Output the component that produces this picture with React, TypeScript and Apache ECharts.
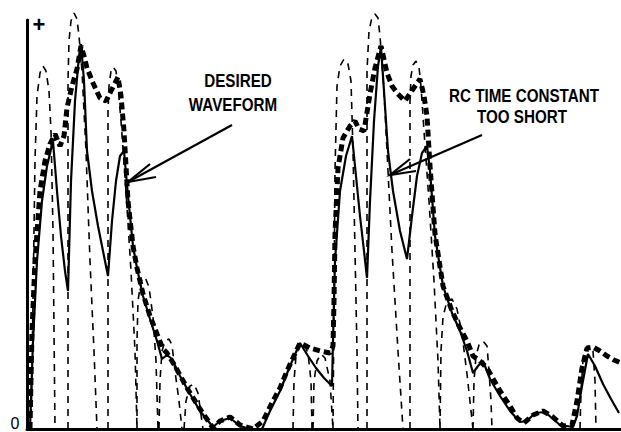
import React, { useEffect, useRef } from "react";
import * as echarts from "echarts";

// time (t) vs. level (a) pairs
const desiredWaveform: number[][] = [
  [0, 0], [2, 98], [5, 168], [10, 238], [15, 268], [20, 285], [25, 295], [30, 283], [34, 293], [37, 321],
  [42, 343], [47, 360], [51, 383], [54, 373], [57, 361], [63, 346], [70, 331], [76, 328], [81, 338], [85, 346],
  [88, 352], [91, 333], [94, 298], [98, 228], [103, 183], [107, 161], [113, 135], [120, 113], [127, 95], [133, 80],
  [137, 76], [145, 63], [157, 41], [170, 20], [183, 1], [190, 8], [200, 12], [210, 4], [223, 0], [233, 8],
  [242, 26], [250, 41], [257, 58], [263, 71], [270, 86], [280, 81], [290, 78], [300, 76], [303, 83], [304, 128],
  [305, 195], [308, 261], [313, 291], [320, 303], [325, 308], [329, 300], [334, 298], [340, 335], [345, 361], [351, 383],
  [357, 356], [362, 343], [367, 336], [375, 328], [383, 340], [390, 350], [394, 333], [397, 313], [400, 263], [405, 195],
  [413, 143], [422, 118], [430, 101], [437, 88], [443, 73], [450, 68], [457, 61], [470, 38], [480, 23], [487, 11],
  [494, 6], [503, 14], [513, 18], [523, 12], [533, 3], [542, 4], [547, 28], [552, 61], [557, 81], [563, 82],
  [570, 78], [577, 73], [584, 69], [591, 66],
];

const rcTooShort: number[][] = [
  [0, 0], [3, 88], [7, 168], [12, 228], [17, 263], [23, 288], [27, 238], [31, 193], [35, 158], [38, 138],
  [41, 248], [45, 328], [49, 373], [51, 385], [54, 348], [57, 278], [62, 238], [68, 203], [73, 178], [78, 153],
  [82, 208], [86, 248], [90, 273], [94, 278], [98, 233], [103, 183], [107, 161], [113, 133], [120, 110], [127, 88],
  [132, 70], [137, 74], [142, 70], [150, 53], [160, 35], [170, 18], [183, 2], [190, 8], [200, 11], [210, 3],
  [220, 0], [232, 0], [240, 18], [250, 38], [260, 63], [270, 86], [278, 73], [286, 61], [294, 51], [302, 43],
  [303, 88], [305, 168], [310, 238], [316, 273], [322, 293], [326, 253], [330, 213], [334, 178], [337, 151], [340, 228],
  [344, 308], [348, 363], [351, 382], [354, 338], [358, 278], [363, 238], [370, 198], [377, 170], [382, 213], [387, 253],
  [392, 276], [397, 283], [400, 258], [405, 193], [413, 143], [422, 116], [430, 98], [437, 78], [443, 56], [448, 63],
  [453, 68], [460, 50], [470, 33], [480, 18], [490, 7], [497, 8], [505, 16], [515, 17], [523, 10], [530, 4],
  [543, 2], [547, 13], [552, 43], [558, 75], [565, 63], [573, 45], [581, 30], [589, 16],
];

// rectified input pulses (thin dashed)
const pulseA1 = [[1, 0], [3, 128], [5, 268], [7, 333], [10, 356], [13, 363], [16, 358], [19, 338], [21, 298], [23, 198], [25, 0]];
const pulseA2 = [[38, 0], [38, 228], [38, 348], [39, 388], [41, 408], [44, 416], [47, 410], [49, 393], [52, 358], [56, 278], [60, 168], [64, 78], [67, 0]];
const pulseA3 = [[78, 0], [78, 178], [78, 318], [79, 343], [81, 358], [83, 362], [86, 358], [88, 343], [91, 308], [96, 238], [101, 158], [105, 78], [107, 0]];
const pulseA4 = [[107, 0], [107, 88], [108, 128], [111, 148], [115, 152], [119, 142], [123, 112], [126, 68], [128, 0]];
const pulseA5 = [[129, 0], [130, 48], [132, 78], [135, 88], [139, 90], [142, 84], [145, 58], [149, 28], [152, 0]];
const pulseA6 = [[154, 0], [156, 28], [160, 43], [164, 45], [168, 36], [173, 0]];
const pulseM1 = [[263, 0], [264, 48], [266, 73], [270, 85], [274, 85], [278, 76], [281, 48], [282, 0]];
const pulseM2 = [[283, 0], [284, 48], [287, 68], [291, 75], [295, 71], [300, 48], [303, 0]];
const pulseB1 = [[303, 0], [304, 128], [305, 258], [307, 343], [310, 363], [314, 370], [318, 365], [321, 348], [323, 278], [325, 178], [327, 78], [328, 0]];
const pulseB2 = [[337, 0], [337, 228], [337, 358], [339, 398], [342, 412], [345, 415], [348, 411], [350, 393], [354, 338], [358, 258], [362, 178], [368, 78], [373, 0]];
const pulseB3 = [[380, 0], [380, 178], [380, 328], [381, 353], [383, 364], [386, 368], [389, 362], [391, 343], [394, 298], [399, 228], [404, 148], [408, 68], [410, 0]];
const pulseB4 = [[410, 0], [411, 78], [413, 112], [417, 128], [422, 130], [427, 120], [432, 95], [437, 55], [443, 0]];
const pulseB5 = [[443, 0], [444, 48], [446, 73], [449, 84], [453, 88], [457, 83], [459, 58], [461, 28], [462, 0]];
const pulseC1 = [[550, 0], [551, 38], [553, 68], [556, 80], [560, 83], [563, 78], [565, 48], [566, 0]];

const pulses = [pulseA1, pulseA2, pulseA3, pulseA4, pulseA5, pulseA6, pulseM1, pulseM2,
  pulseB1, pulseB2, pulseB3, pulseB4, pulseB5, pulseC1];

const labelDesired = ["DESIRED", "WAVEFORM"];
const labelRc = ["RC TIME CONSTANT", "TOO SHORT"];
const axisMarks = ["+", "0"];

export default function App() {
  const ref = useRef<HTMLDivElement>(null);
  useEffect(() => {
    if (!ref.current) return;
    const chart = echarts.init(ref.current, undefined, { renderer: "svg" });
    const pulseData: any[] = [];
    pulses.forEach((p, i) => {
      if (i > 0) pulseData.push([p[0][0], "-"]);
      p.forEach((pt) => pulseData.push(pt));
    });
    const font = "'Liberation Sans Narrow', 'Liberation Sans', Arial, sans-serif";
    const txt = (s: string, x: number, y: number) => ({
      type: "text", x, y, scaleX: 0.8, scaleY: 1,
      style: { text: s, fill: "#000", font: `bold 19px ${font}`, textAlign: "center", textVerticalAlign: "middle" },
    });
    const arrow = (tip: number[], tail: number[], w1: number[], w2: number[]) => [
      { type: "line", shape: { x1: tip[0], y1: tip[1], x2: tail[0], y2: tail[1] }, style: { stroke: "#000", lineWidth: 2.2 } },
      { type: "polyline", shape: { points: [w1, tip, w2] }, style: { stroke: "#000", lineWidth: 2.2, fill: "none" } },
    ];
    chart.setOption({
      animation: false,
      backgroundColor: "#fff",
      grid: { left: 27, right: 0, top: 20, bottom: 3 },
      xAxis: {
        type: "value", min: -3, max: 591,
        axisLine: { show: true, onZero: false, lineStyle: { color: "#000", width: 3 } },
        axisTick: { show: false }, axisLabel: { show: false }, splitLine: { show: false },
      },
      yAxis: {
        type: "value", min: 0, max: 409,
        axisLine: { show: true, onZero: false, lineStyle: { color: "#000", width: 3 } },
        axisTick: { show: false }, axisLabel: { show: false }, splitLine: { show: false },
      },
      series: [
        {
          type: "line", data: pulseData, showSymbol: false, clip: false, connectNulls: false,
          lineStyle: { color: "#000", width: 1.6, type: [7, 6] },
        },
        {
          type: "line", data: rcTooShort, showSymbol: false, clip: false,
          lineStyle: { color: "#000", width: 2.2 },
        },
        {
          type: "line", data: desiredWaveform, showSymbol: false, clip: false,
          lineStyle: { color: "#000", width: 5, type: [7, 4] },
        },
      ],
      graphic: [
        txt(labelDesired[0], 238, 80),
        txt(labelDesired[1], 233, 104),
        txt(labelRc[0], 524, 95),
        txt(labelRc[1], 522, 116),
        { type: "text", x: 39, y: 24, style: { text: axisMarks[0], fill: "#000", font: "bold 22px 'Liberation Sans', sans-serif", textAlign: "center", textVerticalAlign: "middle" } },
        { type: "text", x: 15, y: 423, style: { text: axisMarks[1], fill: "#000", font: "16px 'Liberation Sans', sans-serif", textAlign: "center", textVerticalAlign: "middle" } },
        ...arrow([128, 182], [232, 125], [150, 164], [156, 177]),
        ...arrow([390, 175], [482, 135], [410, 159], [416, 171]),
      ],
    });
    return () => chart.dispose();
  }, []);
  return (
    <div
      ref={ref}
      style={{ position: "fixed", left: 0, top: 0, width: 621, height: 432, background: "#fff" }}
    />
  );
}
